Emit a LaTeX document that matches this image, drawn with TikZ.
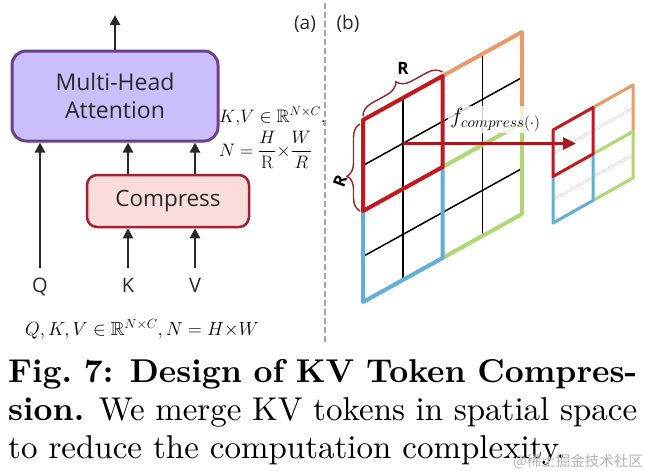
\RequirePackage{fix-cm}
\documentclass[tikz,border=0pt]{standalone}
\usepackage{fontspec}
\usepackage{amsmath,amssymb}
\usetikzlibrary{arrows.meta,decorations.pathreplacing}
\newfontfamily\uisans{Open Sans}
\newfontfamily\cjk{Noto Sans CJK SC}
\newfontfamily\capfont{lmroman10-regular.otf}[BoldFont=lmroman10-bold.otf]
\definecolor{mhaFill}{RGB}{204,190,250}
\definecolor{mhaDraw}{RGB}{105,65,140}
\definecolor{compFill}{RGB}{250,220,220}
\definecolor{compDraw}{RGB}{160,35,45}
\definecolor{gRed}{RGB}{195,25,30}
\definecolor{gOrange}{RGB}{230,155,105}
\definecolor{gBlue}{RGB}{95,175,215}
\definecolor{gGreen}{RGB}{175,215,115}
\definecolor{arrRed}{RGB}{170,25,30}
\definecolor{braceRed}{RGB}{150,35,45}
\definecolor{txt}{RGB}{40,40,40}
\begin{document}
\begin{tikzpicture}[x=1pt,y=-1pt,
  boxmha/.style={draw=mhaDraw,fill=mhaFill,line width=3pt,rounded corners=14pt,
    minimum width=206pt,minimum height=90pt,align=center,text=txt,
    font=\uisans\fontsize{23}{28}\selectfont},
  boxcomp/.style={draw=compDraw,fill=compFill,line width=2.5pt,rounded corners=10pt,
    minimum width=162pt,minimum height=52pt,text=txt,
    font=\uisans\fontsize{22.5}{26}\selectfont},
  iolabel/.style={text=txt,font=\uisans\fontsize{20}{22}\selectfont,inner sep=0pt,
    text height=15pt,text depth=0pt,anchor=north},
  arr/.style={line width=2.4pt,draw=txt,-{Triangle[length=10pt,width=10pt]}},
  panellabel/.style={text=txt,font=\uisans\fontsize{19}{21}\selectfont,inner sep=0pt},
  mathlbl/.style={inner sep=0pt,anchor=base west,font=\fontsize{18}{20}\selectfont},
  gridinner/.style={line width=1.5pt,draw=black},
  gridfine/.style={draw=gray!45,line width=0.4pt,double=white,double distance=1.2pt},
  quadbig/.style={line width=4pt,line join=round},
  quadsmall/.style={line width=3pt,line join=round},
  bracestyle/.style={decorate,draw=braceRed,line width=1.4pt},
  captionline/.style={inner sep=0pt,anchor=base west,font=\capfont\fontsize{33}{38}\selectfont}
]
\useasboundingbox (0,0) rectangle (645,471);

% ---------- panel (a) ----------
\node[boxmha] (mha) at (115,96) {Multi-Head\\Attention};
\node[boxcomp] (comp) at (168,201) {Compress};
\node[iolabel] (Q) at (40,277) {Q};
\node[iolabel] (K) at (128,277) {K};
\node[iolabel] (V) at (195,277) {V};
\coordinate (out) at (115,15);
\draw[arr] (mha.north) -- (out);
\draw[arr] ([yshift=9pt]Q.north) -- (Q.north |- mha.south);
\draw[arr] ([yshift=9pt]K.north) -- (K.north |- comp.south);
\draw[arr] ([yshift=9pt]V.north) -- (V.north |- comp.south);
\draw[arr] (K.north |- comp.north) -- (K.north |- mha.south);
\draw[arr] (V.north |- comp.north) -- (V.north |- mha.south);

\node[mathlbl] (kv) at (219,122) {$K{,}V\in\mathbb{R}^{N\times C}{,}$};
\node[mathlbl] (nn) at (219,156) {$N=\dfrac{H}{\mathrm{R}}{\times}\dfrac{W}{R}$};
\node[mathlbl,font=\fontsize{19}{21}\selectfont] (qkv) at (25,335) {$Q,K,V\in\mathbb{R}^{N\times C}, N=H{\times}W$};

\node[panellabel] (la) at (305,24) {(a)};
\coordinate (dtop) at (325,3);
\coordinate (dbot) at (325,342);
\draw[draw=gray!70,line width=1.3pt,dash pattern=on 6pt off 3pt] (dtop) -- (dbot);

% ---------- panel (b) ----------
\node[panellabel] (lb) at (348,24) {(b)};

% big grid inner lines
\draw[gridinner] (402.75,280) -- (402.75,98);
\draw[gridinner] (482.25,236) -- (482.25,54);
\draw[gridinner] (363,256.5) -- (522,168.5);
\draw[gridinner] (363,165.5) -- (522,77.5);
% big grid quadrant borders
\draw[quadbig,draw=gOrange] (442.5,76) -- (522,32) -- (522,123);
\draw[quadbig,draw=gGreen] (442.5,167) -- (522,123) -- (522,214) -- (442.5,258);
\draw[quadbig,draw=gBlue] (363,211) -- (363,302) -- (442.5,258) -- (442.5,167);
\draw[quadbig,draw=gRed] (363,120) -- (442.5,76) -- (442.5,167) -- (363,211) -- cycle;

% small grid
\draw[gridfine] (573,211.75) -- (573,118.75);
\draw[gridfine] (613,189.25) -- (613,96.25);
\draw[gridfine] (553,199.75) -- (633,154.75);
\draw[gridfine] (553,153.25) -- (633,108.25);
\draw[quadsmall,draw=gOrange] (593,107.5) -- (633,85) -- (633,131.5);
\draw[quadsmall,draw=gGreen] (593,154) -- (633,131.5) -- (633,178) -- (593,200.5);
\draw[quadsmall,draw=gBlue] (553,176.5) -- (553,223) -- (593,200.5) -- (593,154);
\draw[quadsmall,draw=gRed] (553,130) -- (593,107.5) -- (593,154) -- (553,176.5) -- cycle;

% braces
\draw[bracestyle,decoration={brace,amplitude=14pt}] (363,116) -- (442.5,72);
\node[inner sep=0pt,font=\uisans\bfseries\fontsize{17}{19}\selectfont] (rtop) at (403,68) {R};
\draw[bracestyle,decoration={brace,amplitude=13pt,aspect=0.4}] (360,211) -- (360,124);
\node[inner sep=0pt,rotate=70,font=\uisans\bfseries\fontsize{17}{19}\selectfont] (rleft) at (340,181) {R};

% compress label and arrow
\node[fill=white,fill opacity=0.8,text opacity=1,inner sep=0pt,minimum width=95pt,
  minimum height=27pt,font=\fontsize{22}{24}\selectfont] (fc) at (495.5,119.5) {$f_{compress(\cdot)}$};
\coordinate (bigc) at (402.75,143.5);
\coordinate (smallc) at (576,143.5);
\draw[line width=3pt,draw=arrRed,-{Triangle[length=13pt,width=12pt]}] (bigc) -- (smallc);

% ---------- caption ----------
\node[captionline] (c1) at (8,382) {\makebox[629pt][s]{\bfseries Fig.~7: Design of KV Token Compres-}};
\node[captionline] (c2) at (8,420) {\makebox[629pt][s]{\textbf{sion.} We merge KV tokens in spatial space}};
\node[captionline] (c3) at (8,458) {to reduce the computation complexity.};
\node[inner sep=0pt,anchor=base east,text=gray!60,font=\cjk\fontsize{14.5}{16}\selectfont] (wm) at (643,466) {@稀土掘金技术社区};
\end{tikzpicture}
\end{document}
